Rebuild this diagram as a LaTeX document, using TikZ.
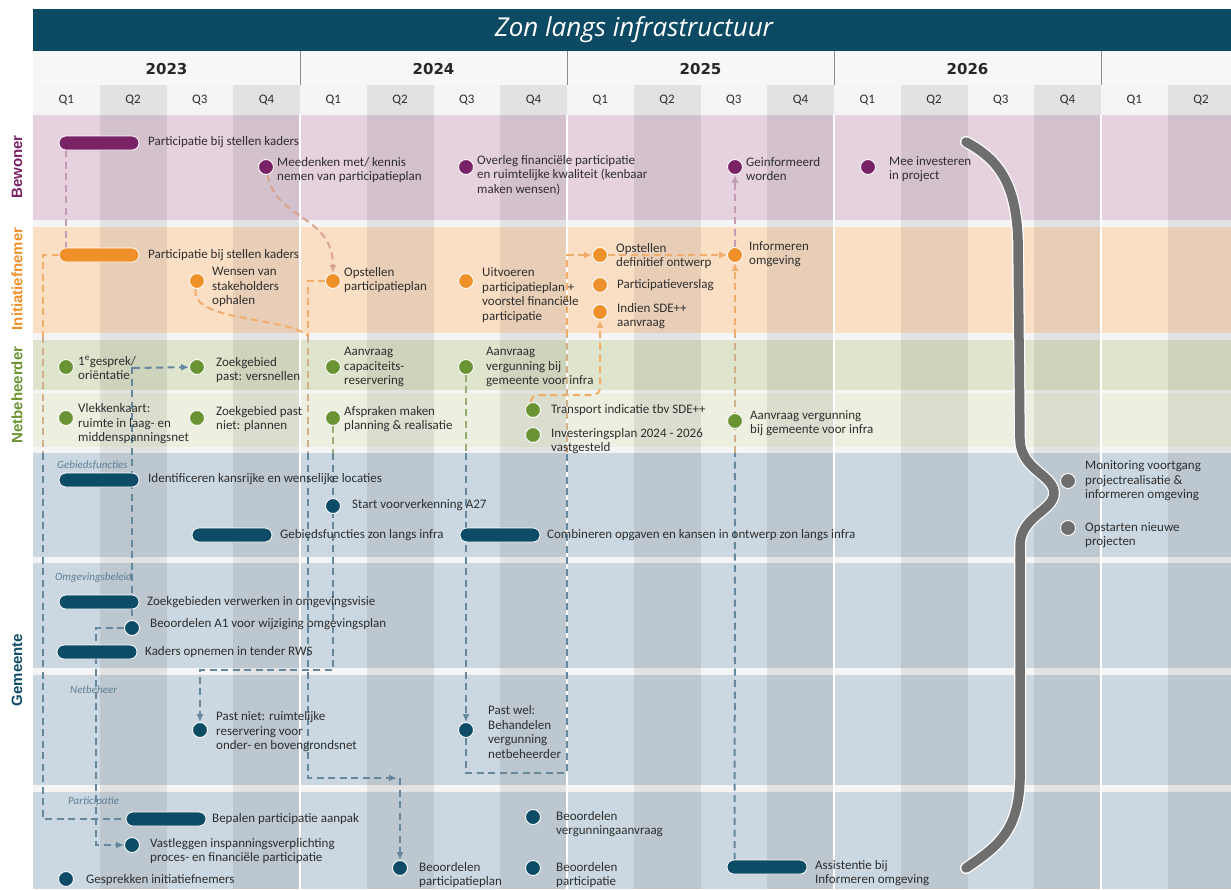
\documentclass[tikz,border=0pt]{standalone}
\usepackage{fontspec}
\setmainfont{Carlito}
\newfontfamily\titlefont{Open Sans}
\newfontfamily\headfont{Liberation Sans}
\newfontfamily\yearfont{DejaVu Sans}
\usetikzlibrary{arrows.meta}

\definecolor{titleblue}{HTML}{0B4A62}
\definecolor{bew}{HTML}{7A2266}
\definecolor{ini}{HTML}{F0902A}
\definecolor{net}{HTML}{6A9433}
\definecolor{gem}{HTML}{0D4C66}
\definecolor{grijs}{HTML}{6E6E6E}
\definecolor{bewlane}{HTML}{E6D1DF}
\definecolor{inilane}{HTML}{FBDFC5}
\definecolor{netlaneA}{HTML}{DFE5CC}
\definecolor{netlaneB}{HTML}{EDF0E0}
\definecolor{gemlane}{HTML}{CCD8E1}
\definecolor{txt}{HTML}{2E2E2E}
\definecolor{pinkd}{HTML}{C49AB3}
\definecolor{orad}{HTML}{F0AE6A}
\definecolor{tand}{HTML}{D0B08A}
\definecolor{grnd}{HTML}{98AE72}
\definecolor{blud}{HTML}{66889F}
\definecolor{sublbl}{HTML}{5E7E94}

\pgfdeclarelayer{bg}
\pgfdeclarelayer{lines}
\pgfsetlayers{bg,lines,main}

\tikzset{
  dot/.style={circle,fill=#1,draw=white,line width=0.9pt,minimum size=15pt,inner sep=0pt},
  bar/.style={rectangle,rounded corners=7pt,fill=#1,draw=white,line width=0.8pt,minimum width=80pt,minimum height=14pt,inner sep=0pt},
  lbl/.style={anchor=west,align=left,inner sep=0pt,text=txt,font=\fontsize{13}{14.5}\selectfont},
  sub/.style={anchor=west,inner sep=0pt,text=sublbl,font=\fontsize{11}{12}\selectfont\itshape},
  lane/.style={rotate=90,inner sep=0pt,text=#1,font={\headfont\bfseries\fontsize{15}{17}\selectfont}},
  yr/.style={inner sep=0pt,text=black!85,font={\yearfont\bfseries\fontsize{15}{17}\selectfont}},
  qlbl/.style={inner sep=0pt,text=txt,font=\fontsize{13}{15}\selectfont},
  flow/.style={draw=#1,line width=2pt,dash pattern=on 7pt off 4.5pt},
  arr/.style={-{Latex[length=8pt,width=7pt]}},
}

% event: name, colour, dot at, text at, text
\newcommand\ev[5]{\node[dot=#2] (#1) at (#3) {}; \node[lbl] (#1t) at (#4) {#5};}
\newcommand\evbar[5]{\node[bar=#2] (#1) at (#3) {}; \node[lbl] (#1t) at (#4) {#5};}

\begin{document}
\begin{tikzpicture}[x=1pt,y=-1pt]
\useasboundingbox (0,0) rectangle (1231,889);

\begin{pgfonlayer}{bg}
% header
\fill[titleblue] (33,9) rectangle (1231,51);
\fill[white!97!black] (33,51) rectangle (1231,85);
\fill[white!96!black] (33,85) rectangle (1231,889);
% lanes
\fill[bewlane] (33,115) rectangle (1231,220);
\fill[inilane] (33,227) rectangle (1231,333);
\fill[netlaneA] (33,340) rectangle (1231,390);
\fill[netlaneB] (33,393) rectangle (1231,447);
\fill[gemlane] (33,453) rectangle (1231,557);
\fill[gemlane] (33,563) rectangle (1231,668);
\fill[gemlane] (33,675) rectangle (1231,785);
\fill[gemlane] (33,792) rectangle (1231,889);
% quarter stripes
\foreach \i in {1,3,...,17}
  \fill[black,opacity=.075] ({33+66.75*\i},85) rectangle ({min(33+66.75*(\i+1),1231)},889);
\foreach \x in {300,567,834,1101} {
  \draw[white,line width=1.2pt] (\x,115) -- (\x,889);
  \draw[black!45,line width=.8pt] (\x,51) -- (\x,85);
}
\end{pgfonlayer}

\node[text=white,font={\titlefont\itshape\fontsize{26}{30}\selectfont}] (title) at (634,30) {Zon langs infrastructuur};
\foreach \y/\t in {0/2023,1/2024,2/2025,3/2026}
  \node[yr] (y\t) at ({166.5+267*\y},69) {\t};
\foreach \i in {0,...,17} {
  \pgfmathtruncatemacro\q{mod(\i,4)+1}
  \node[qlbl] (q\i) at ({33+66.75*(\i+.5)},100) {Q\q};
}

% lane labels
\node[lane=bew] (lbew) at (17,167) {Bewoner};
\node[lane=ini] (lini) at (17,279) {Initiatiefnemer};
\node[lane=net] (lnet) at (17,395) {Netbeheerder};
\node[lane=gem] (lgem) at (17,670) {Gemeente};

% Bewoner
\evbar{bkad}{bew}{99,143}{148,142}{Participatie bij stellen kaders}
\ev{bmee}{bew}{266,167}{277,170}{Meedenken met/ kennis\\nemen van participatieplan}
\ev{bover}{bew}{466,167}{477,175}{Overleg financiële participatie\\en ruimtelijke kwaliteit (kenbaar\\maken wensen)}
\ev{bgei}{bew}{735,167}{746,169}{Geinformeerd\\worden}
\ev{binv}{bew}{868,167}{889,169}{Mee investeren\\in project}

% Initiatiefnemer
\evbar{ikad}{ini}{99,255}{148,255}{Participatie bij stellen kaders}
\ev{iwens}{ini}{197,281}{212,287}{Wensen van\\stakeholders\\ophalen}
\ev{iplan}{ini}{333,281}{344,280}{Opstellen\\participatieplan}
\ev{iuitv}{ini}{466,281}{482,295}{Uitvoeren\\participatieplan +\\voorstel financiële\\participatie}
\ev{idef}{ini}{600,255}{616,256}{Opstellen\\definitief ontwerp}
\ev{iversl}{ini}{600,285}{617,285}{Participatieverslag}
\ev{isde}{ini}{600,312}{617,316}{Indien SDE++\\aanvraag}
\ev{iinf}{ini}{735,255}{749,254}{Informeren\\omgeving}

% Netbeheerder
\ev{ngesp}{net}{66,367}{78,368}{1\textsuperscript{e}gesprek/\\oriëntatie}
\ev{nzoekA}{net}{197,367}{216,370}{Zoekgebied\\past: versnellen}
\ev{ncap}{net}{333,367}{344,367}{Aanvraag\\capaciteits-\\reservering}
\ev{nverg}{net}{466,367}{486,367}{Aanvraag\\vergunning bij\\gemeente voor infra}
\ev{nvlek}{net}{66,418}{78,424}{Vlekkenkaart:\\ruimte in laag- en\\middenspanningsnet}
\ev{nzoekB}{net}{197,418}{216,419}{Zoekgebied past\\niet: plannen}
\ev{nafs}{net}{333,418}{344,419}{Afspraken maken\\planning \& realisatie}
\ev{ntrans}{net}{533,410}{551,410}{Transport indicatie tbv SDE++}
\ev{ninv}{net}{533,435}{551,441}{Investeringsplan 2024 - 2026\\vastgesteld}
\ev{naanv}{net}{735,421}{750,423}{Aanvraag vergunning\\bij gemeente voor infra}

% Gemeente
\node[sub] (sgeb) at (57,465) {Gebiedsfuncties};
\evbar{gident}{gem}{99,480}{148,479}{Identificeren kansrijke en wenselijke locaties}
\ev{gstart}{gem}{333,506}{352,505}{Start voorverkenning A27}
\evbar{gfunc}{gem}{232,535}{280,535}{Gebiedsfuncties zon langs infra}
\evbar{gcomb}{gem}{500,535}{547,535}{Combineren opgaven en kansen in ontwerp zon langs infra}
\ev{gmon}{grijs}{1068,481}{1085,481}{Monitoring voortgang\\projectrealisatie \&\\informeren omgeving}
\ev{gopst}{grijs}{1068,528}{1085,535}{Opstarten nieuwe\\projecten}
\node[sub] (somg) at (55,578) {Omgevingsbeleid};
\evbar{gzoek}{gem}{99,602}{147,602}{Zoekgebieden verwerken in omgevingsvisie}
\ev{gbeo}{gem}{132,628}{150,624}{Beoordelen A1 voor wijziging omgevingsplan}
\evbar{gkad}{gem}{97,652}{145,652}{Kaders opnemen in tender RWS}
\node[sub] (snet) at (70,690) {Netbeheer};
\ev{gpast}{gem}{200,730}{216,732}{Past niet: ruimtelijke\\reservering voor\\onder- en bovengrondsnet}
\ev{gwel}{gem}{466,730}{488,732}{Past wel:\\Behandelen\\vergunning\\netbeheerder}
\node[sub] (spart) at (68,802) {Participatie};
\evbar{gbep}{gem}{166,819}{212,819}{Bepalen participatie aanpak}
\ev{gvast}{gem}{132,845}{150,851}{Vastleggen inspanningsverplichting\\proces- en financiële participatie}
\ev{ggespr}{gem}{66,879}{86,880}{Gesprekken initiatiefnemers}
\ev{gbplan}{gem}{400,868}{419,875}{Beoordelen\\participatieplan}
\ev{gbverg}{gem}{533,817}{556,824}{Beoordelen\\vergunningaanvraag}
\ev{gbpart}{gem}{533,868}{556,875}{Beoordelen\\participatie}
\evbar{gass}{gem}{767,867}{815,873}{Assistentie bij\\Informeren omgeving}

% connectors
\begin{pgfonlayer}{lines}
\draw[flow=pinkd] ([xshift=7pt]bkad.south west) -- ([xshift=7pt]ikad.north west);
\draw[flow=pinkd!50!orad,arr] (bmee) .. controls (276,220) and (333,215) .. (iplan);
% participatieplan naar beoordelen
\coordinate (kp) at (308,281);
\draw[flow=orad] (iplan) -- (kp) -- (308,336);
\draw[flow=orad] (iwens) .. controls (190,322) and (285,316) .. (308,336);
\draw[flow=tand] (308,336) -- (308,453);
\draw[flow=blud,arr] (308,453) |- (397,778);
\draw[flow=blud,arr] (400,778) -- (gbplan);
% kaders naar participatie aanpak
\draw[flow=orad] (ikad.west) -- (43,255) -- (43,336);
\draw[flow=tand] (43,336) -- (43,453);
\draw[flow=blud] (43,453) |- (gbep.west);
% gesprek en zoekgebieden
\draw[flow=blud,arr] ([xshift=-3pt]ngespt.east) -- (nzoekA);
\coordinate (kz) at (132,367);
\draw[flow=blud] (kz) -- (gbeo);
\draw[flow=blud,arr] (gbeo) -- (96,628) -- (96,845) -- (gvast);
% afspraken naar past niet
\draw[flow=grnd] (nafs) -- (333,453);
\draw[flow=blud,arr] (333,453) -- (333,670) -| (gpast);
% vergunning naar past wel
\draw[flow=grnd] (nverg) -- (466,453);
\draw[flow=blud,arr] (466,453) -- (gwel);
\draw[flow=blud] (gwel) -- (466,773) -- (567,773) -- (567,453);
\draw[flow=tand] (567,453) -- (567,336);
\draw[flow=orad,arr] (567,336) |- (idef);
% transport naar SDE++
\draw[flow=orad,arr,rounded corners=7pt] ([xshift=-2pt]ntrans.north) -- (531,395) -- (600,395) -- (isde);
\draw[flow=orad,arr] (idef) -- (iinf);
% assistentie naar informeren
\draw[flow=blud] ([xshift=8pt]gass.north west) -- (735,453);
\draw[flow=tand] (735,453) -- (735,336);
\draw[flow=orad,arr] (735,336) -- (iinf);
\draw[flow=pinkd,arr] (iinf) -- (bgei);
\end{pgfonlayer}

% brace
\draw[white,line width=12pt,line cap=round] (966,142) .. controls (1000,160) and (1016,185) .. (1018,240) -- (1020,440) .. controls (1021,470) and (1054,475) .. (1054,493) .. controls (1054,511) and (1020,516) .. (1020,546) -- (1020,780) .. controls (1018,830) and (1000,845) .. (966,868);
\draw[grijs,line width=9.5pt,line cap=round] (966,142) .. controls (1000,160) and (1016,185) .. (1018,240) -- (1020,440) .. controls (1021,470) and (1054,475) .. (1054,493) .. controls (1054,511) and (1020,516) .. (1020,546) -- (1020,780) .. controls (1018,830) and (1000,845) .. (966,868);
\end{tikzpicture}
\end{document}
